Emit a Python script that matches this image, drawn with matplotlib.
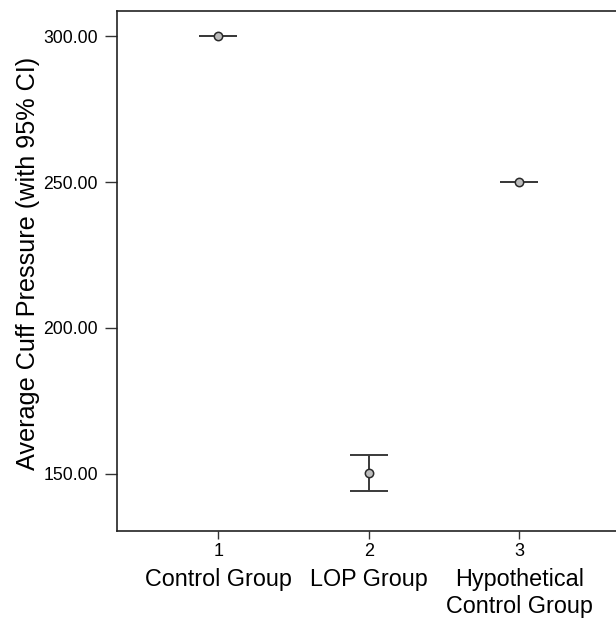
import matplotlib
matplotlib.use("Agg")
import matplotlib.pyplot as plt
import matplotlib.transforms as mtransforms

# data
groups = [1, 2, 3]
group_names = ["Control Group", "LOP Group", "Hypothetical\nControl Group"]
means = [300.0, 150.3, 250.0]
ci_low = [300.0, 144.0, 250.0]
ci_high = [300.0, 156.5, 250.0]
yticks = [150, 200, 250, 300]

plt.rcParams['font.family'] = ['Liberation Sans', 'DejaVu Sans']

fig = plt.figure(figsize=(6.16, 6.23), dpi=100)
ax = fig.add_axes([117.3 / 616, 1 - 531 / 623, (620 - 117.3) / 616, (531 - 10.7) / 623])

err = [[m - lo for m, lo in zip(means, ci_low)], [hi - m for m, hi in zip(means, ci_high)]]
ax.errorbar(groups, means, yerr=err, fmt='none', ecolor='#3a3a3a',
            elinewidth=1.4, capsize=14, capthick=1.4, zorder=2)
ax.plot(groups, means, 'o', markersize=6, markerfacecolor='#bdbdbd',
        markeredgecolor='#2a2a2a', markeredgewidth=1.1, zorder=3)

ax.set_xlim(0.33, 3.67)
ax.set_ylim(130.35, 308.8)
ax.set_xticks(groups)
ax.set_xticklabels([str(g) for g in groups], fontsize=13)
ax.set_yticks(yticks)
ax.set_yticklabels(["%.2f" % t for t in yticks], fontsize=12.7)
ax.tick_params(axis='y', direction='out', length=9, width=1, color='#333333', pad=5)
ax.tick_params(axis='x', direction='out', length=6, width=1, color='#333333', pad=3)

for s in ax.spines.values():
    s.set_linewidth(1.2)
    s.set_color('#222222')

ax.set_ylabel("Average Cuff Pressure (with 95% CI)", fontsize=18.2)
ax.yaxis.set_label_coords(-0.154, 0.515)

trans = mtransforms.blended_transform_factory(ax.transData, fig.transFigure)
for g, name in zip(groups, group_names):
    ax.text(g, 1 - 568 / 623, name, transform=trans, ha='center', va='top',
            fontsize=16.8, linespacing=1.2)

fig.savefig("out.png", dpi=100)
